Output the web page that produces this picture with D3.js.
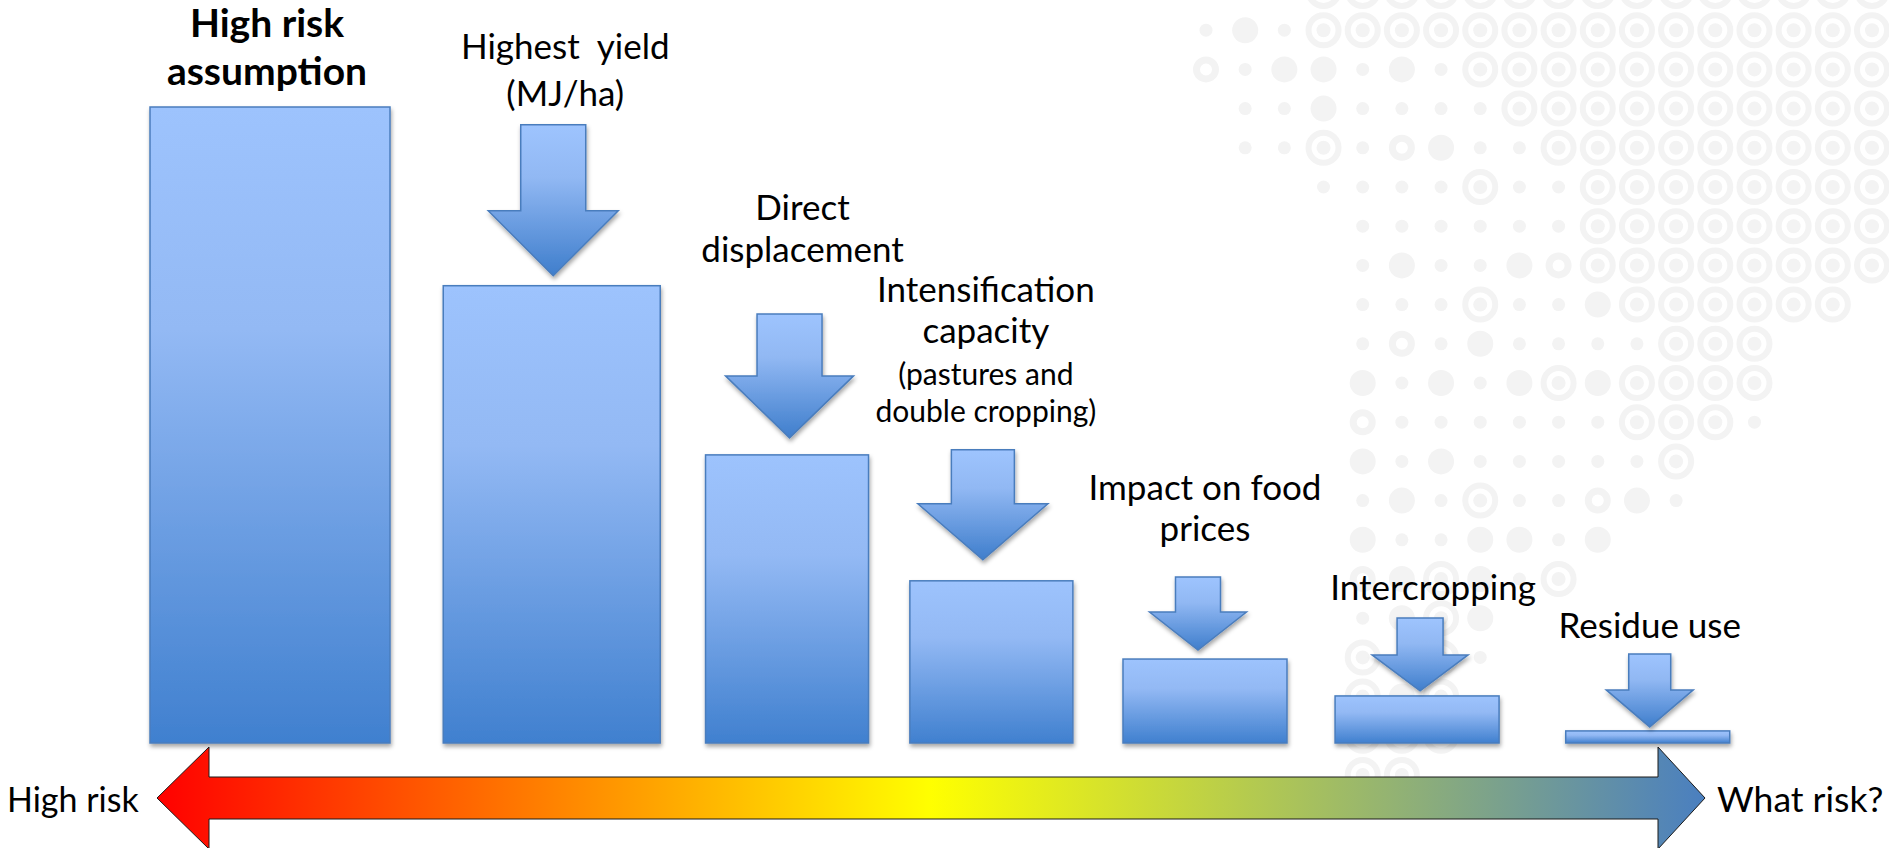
<!DOCTYPE html>
<html>
<head>
<meta charset="utf-8">
<script src="https://cdn.jsdelivr.net/npm/d3@7"></script>
<style>
  html, body { margin: 0; padding: 0; background: #ffffff; overflow: hidden; }
  svg { display: block; }
</style>
</head>
<body>
<svg id="chart" width="1889" height="848"></svg>
<script>
// ---- data -------------------------------------------------------------
const categories = [
  "High risk assumption", "Highest yield", "Direct displacement",
  "Intensification capacity", "Impact on food prices", "Intercropping", "Residue use"
];
// remaining land-use risk after each step (high risk assumption = 100)
const remainingRisk = [100, 71.9, 45.3, 25.5, 13.2, 7.4, 1.9];
// where each step sits along the risk gradient (0 = high risk, 100 = what risk?)
const gradientPosition = [7.3, 25.5, 40.7, 53.9, 67.7, 81.4, 96.3];
const labelLines = [
  ["High risk", "assumption"],
  ["Highest  yield", "(MJ/ha)"],
  ["Direct", "displacement"],
  ["Intensification", "capacity", "(pastures and", "double cropping)"],
  ["Impact on food", "prices"],
  ["Intercropping"],
  ["Residue use"]
];
const axisEnds = ["High risk", "What risk?"];

// decorative dot field: "." small dot, "o" large dot, "c" ring, "@" ring with centre dot
const dotRows = [
  ".. @@@@@@@@@@@@@@@",
  ".o.@@@@@@@@@@@@@@@",
  "c.oo.o.@@@@@@@@@@@",
  " ..o....@@@@@@@@@@",
  " ..@.co..@@@@@@@@@",
  "   ....@..@@@@@@@@",
  "    ......@@@@@@@@",
  "    .o..oc@@@@@@@@",
  "    ...@..o@@@@@@ ",
  "    .c.o....@@@   ",
  "    o.o.o@o@@@@   ",
  "    c......@@@.   ",
  "    o.o.....@     ",
  "    .o.@..co.     ",
  "    o..oo.o       ",
  "    co@o.@        ",
  "    .o@o          ",
  "    @.@.          ",
  "    @o@           ",
  "    @@@           ",
  "    @@            "
];

// ---- layout -----------------------------------------------------------
const W = 1889, H = 848;
const barWidths = [240, 217, 163, 163, 164, 164, 164];
// reduction arrows above steps 2..7: length, head length, head width, shaft width, gap to bar, x shift
const arrowShapes = [
  null,
  { len: 151, head: 65, headW: 130, shaftW: 65, gap: 10, dx: 1.5 },
  { len: 124, head: 62, headW: 128, shaftW: 65, gap: 17, dx: 2.5 },
  { len: 110, head: 56, headW: 130, shaftW: 63, gap: 21, dx: -8.5 },
  { len: 73,  head: 38, headW: 97,  shaftW: 45, gap: 9,  dx: -7 },
  { len: 73,  head: 36, headW: 96,  shaftW: 46, gap: 5,  dx: 3 },
  { len: 73,  head: 37, headW: 87,  shaftW: 42, gap: 4,  dx: 2 }
];
// label placement: x shift from the bar centre, baseline of every line, small-print lines
const labelPlace = [
  { dx: -3,   base: [37, 85], bold: true },
  { dx: 13.5, base: [59, 106] },
  { dx: 15.5, base: [220, 262] },
  { dx: -5.5, base: [302, 343, 385, 422], small: [2, 3] },
  { dx: 0,    base: [500, 541] },
  { dx: 16,   base: [600] },
  { dx: 2,    base: [638] }
];

const FONT = "Lato, 'Open Sans', sans-serif";

const svg = d3.select("#chart");
const x = d3.scaleLinear().domain([0, 100]).range([157, 1705]);
const y = d3.scaleLinear().domain([0, 100]).range([743, 107]);

const defs = svg.append("defs");

function vGradient(id, stops) {
  const g = defs.append("linearGradient").attr("id", id)
    .attr("x1", 0).attr("y1", 0).attr("x2", 0).attr("y2", 1);
  stops.forEach(([o, c]) => g.append("stop").attr("offset", o).attr("stop-color", c));
}
vGradient("barFill", [[0, "#9dc3fd"], [0.35, "#93b9f4"], [1, "#4080cf"]]);
vGradient("arrowFill", [[0, "#9ec4fe"], [0.35, "#91b8f3"], [1, "#3f7ecc"]]);

const riskGrad = defs.append("linearGradient").attr("id", "riskFill")
  .attr("gradientUnits", "userSpaceOnUse")
  .attr("x1", x(0)).attr("y1", 0).attr("x2", x(100)).attr("y2", 0);
[[0, "#ff0000"], [0.5, "#ffff00"], [1, "#4a7fc0"]]
  .forEach(([o, c]) => riskGrad.append("stop").attr("offset", o).attr("stop-color", c));

const shadow = defs.append("filter").attr("id", "shadow")
  .attr("filterUnits", "userSpaceOnUse")
  .attr("x", 0).attr("y", 0).attr("width", W).attr("height", H);
shadow.append("feDropShadow")
  .attr("dx", 1).attr("dy", 3).attr("stdDeviation", 2.2)
  .attr("flood-color", "#000").attr("flood-opacity", 0.35);

// ---- background dot field ---------------------------------------------
const dotX = d3.scaleLinear().domain([0, 17]).range([1206, 1872]);
const dotY = d3.scaleLinear().domain([0, 1]).range([-9, 30.2]);
const dots = [];
dotRows.forEach((row, r) => row.split("").forEach((ch, c) => {
  if (ch !== " ") dots.push({ r, c, ch });
}));
const dotColor = "#f3f3f3";
const dotG = svg.append("g").attr("class", "dots").attr("fill", dotColor).attr("stroke", dotColor);
const dot = dotG.selectAll("g").data(dots).join("g")
  .attr("transform", d => `translate(${dotX(d.c)},${dotY(d.r)})`);
dot.filter(d => d.ch === ".").append("circle").attr("r", 6.5).attr("stroke", "none");
dot.filter(d => d.ch === "o").append("circle").attr("r", 13).attr("stroke", "none");
dot.filter(d => d.ch === "c").append("circle").attr("r", 9.5).attr("fill", "none").attr("stroke-width", 7);
const ring = dot.filter(d => d.ch === "@");
ring.append("circle").attr("r", 15).attr("fill", "none").attr("stroke-width", 6);
ring.append("circle").attr("r", 7).attr("stroke", "none");

// ---- risk gradient double arrow ----------------------------------------
const axisY = 798, headHalf = 51, shaftHalf = 21;
const x0 = x(0), x1 = x(100), headL = 52, headR = 47;
const riskPath = d3.path();
riskPath.moveTo(x0, axisY);
riskPath.lineTo(x0 + headL, axisY - headHalf);
riskPath.lineTo(x0 + headL, axisY - shaftHalf);
riskPath.lineTo(x1 - headR, axisY - shaftHalf);
riskPath.lineTo(x1 - headR, axisY - headHalf);
riskPath.lineTo(x1, axisY);
riskPath.lineTo(x1 - headR, axisY + headHalf);
riskPath.lineTo(x1 - headR, axisY + shaftHalf);
riskPath.lineTo(x0 + headL, axisY + shaftHalf);
riskPath.lineTo(x0 + headL, axisY + headHalf);
riskPath.closePath();
svg.append("path").attr("d", riskPath.toString())
  .attr("fill", "url(#riskFill)").attr("stroke", "#1a1a1a").attr("stroke-width", 1);

svg.append("text").attr("x", 7).attr("y", 812)
  .attr("font-family", FONT).attr("font-size", 34).attr("fill", "#000")
  .text(axisEnds[0]);
svg.append("text").attr("x", 1717).attr("y", 812)
  .attr("font-family", FONT).attr("font-size", 35.5).attr("fill", "#000")
  .text(axisEnds[1]);

// ---- bars ---------------------------------------------------------------
const steps = categories.map((name, i) => ({
  name, i, risk: remainingRisk[i], pos: gradientPosition[i], lines: labelLines[i]
}));

svg.append("g").attr("class", "bars")
  .selectAll("rect").data(steps).join("rect")
  .attr("x", d => x(d.pos) - barWidths[d.i] / 2)
  .attr("width", d => barWidths[d.i])
  .attr("y", d => y(d.risk))
  .attr("height", d => y(0) - y(d.risk))
  .attr("fill", "url(#barFill)")
  .attr("stroke", "#4a7dbd").attr("stroke-width", 1.5)
  .attr("filter", "url(#shadow)");

// ---- reduction arrows -----------------------------------------------------
// arrow outline in page coordinates, tip resting just above its bar
function downArrow(d) {
  const s = arrowShapes[d.i];
  const cx = x(d.pos) + s.dx, tip = y(d.risk) - s.gap;
  const p = d3.path();
  p.moveTo(cx - s.shaftW / 2, tip - s.len);
  p.lineTo(cx + s.shaftW / 2, tip - s.len);
  p.lineTo(cx + s.shaftW / 2, tip - s.head);
  p.lineTo(cx + s.headW / 2, tip - s.head);
  p.lineTo(cx, tip);
  p.lineTo(cx - s.headW / 2, tip - s.head);
  p.lineTo(cx - s.shaftW / 2, tip - s.head);
  p.closePath();
  return p.toString();
}
svg.append("g").attr("class", "arrows")
  .selectAll("path").data(steps.filter(d => arrowShapes[d.i])).join("path")
  .attr("d", downArrow)
  .attr("fill", "url(#arrowFill)")
  .attr("stroke", "#4a7dbd").attr("stroke-width", 1.5)
  .attr("stroke-linejoin", "miter")
  .attr("filter", "url(#shadow)");

// ---- labels ---------------------------------------------------------------
const labels = svg.append("g").attr("class", "labels")
  .selectAll("text").data(steps).join("text")
  .attr("text-anchor", "middle")
  .attr("font-family", FONT)
  .attr("fill", "#000")
  .style("white-space", "pre")
  .attr("font-weight", d => labelPlace[d.i].bold ? 700 : 400);

labels.selectAll("tspan").data(d => d.lines.map((t, k) => ({ t, k, d }))).join("tspan")
  .attr("x", l => x(l.d.pos) + labelPlace[l.d.i].dx)
  .attr("y", l => labelPlace[l.d.i].base[l.k])
  .attr("font-size", l => {
    const lp = labelPlace[l.d.i];
    if (lp.bold) return 39;
    if (lp.small && lp.small.includes(l.k)) return 30;
    return 35;
  })
  .text(l => l.t);
</script>
</body>
</html>
